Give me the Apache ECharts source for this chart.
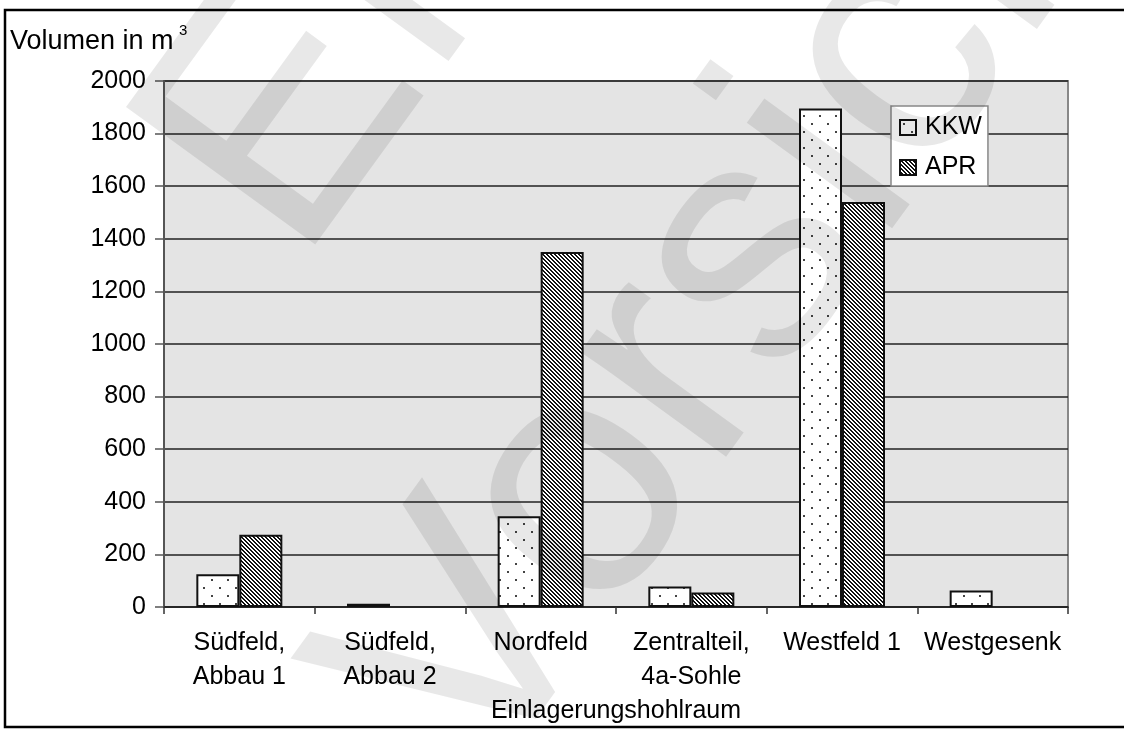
<!DOCTYPE html>
<html>
<head>
<meta charset="utf-8">
<script src="https://cdn.jsdelivr.net/npm/echarts@6/dist/echarts.min.js"></script>
<style>
  html, body { margin: 0; padding: 0; background: #fff; }
  #chart { width: 1124px; height: 731px; }
</style>
</head>
<body>
<div id="chart"></div>
<script>
// Storage cavities (x categories)
const categories = [
  'Südfeld,\nAbbau 1',
  'Südfeld,\nAbbau 2',
  'Nordfeld',
  'Zentralteil,\n4a-Sohle',
  'Westfeld 1',
  'Westgesenk'
];
// Volume in m³ per cavity
const kkwValues = [125, 12, 345, 78, 1895, 63];
const aprValues = [275, null, 1350, 55, 1540, null];
const seriesNames = ['KKW', 'APR'];
const yTicks = { min: 0, max: 2000, step: 200 };
// Draft stamp lettering across the sheet
const stampLines = ['ENTWURF', 'Vorsicht'];

// Fill tiles: dotted (KKW) and diagonal hatch (APR)
function dotTile() {
  const c = document.createElement('canvas');
  c.width = 16; c.height = 16;
  const g = c.getContext('2d');
  g.fillStyle = '#ffffff';
  g.fillRect(0, 0, 16, 16);
  g.fillStyle = '#444444';
  g.fillRect(3, 3, 2, 2);
  g.fillRect(11, 11, 2, 2);
  return c;
}
function hatchTile(period) {
  const c = document.createElement('canvas');
  c.width = period; c.height = period;
  const g = c.getContext('2d');
  g.fillStyle = '#ffffff';
  g.fillRect(0, 0, period, period);
  g.fillStyle = '#111111';
  for (let y = 0; y < period; y++) {
    for (let x = 0; x < period; x++) {
      const d = ((x - y) % period + period) % period;
      if (d < period / 2) g.fillRect(x, y, 1, 1);
    }
  }
  return c;
}
const dotFill = { image: dotTile(), repeat: 'repeat' };
const hatchFill = { image: hatchTile(4), repeat: 'repeat' };

const FONT = '"Liberation Sans", Arial, sans-serif';
const STAMP_ANGLE = 54 * Math.PI / 180;

const chart = echarts.init(document.getElementById('chart'), null, { renderer: 'canvas' });
chart.setOption({
  animation: false,
  backgroundColor: '#ffffff',
  textStyle: { fontFamily: FONT, color: '#000' },
  grid: {
    left: 164, right: 56, top: 81, bottom: 124,
    show: true,
    backgroundColor: '#e4e4e4',
    borderColor: '#888888',
    borderWidth: 2
  },
  legend: {
    orient: 'vertical',
    left: 891, top: 106,
    padding: [9, 6, 6, 8],
    itemWidth: 16, itemHeight: 15,
    itemGap: 15,
    backgroundColor: '#ffffff',
    borderColor: '#888888',
    borderWidth: 1.5,
    borderRadius: 0,
    icon: 'rect',
    textStyle: { fontFamily: FONT, fontSize: 25, color: '#000', padding: [0, 0, 0, 4] },
    data: seriesNames
  },
  xAxis: {
    type: 'category',
    data: categories,
    name: 'Einlagerungshohlraum',
    nameLocation: 'middle',
    nameGap: 83,
    nameTextStyle: { fontFamily: FONT, fontSize: 25, color: '#000' },
    axisLine: { lineStyle: { color: '#222', width: 1.5 } },
    axisTick: { show: true, length: 7, lineStyle: { color: '#333', width: 1.5 } },
    axisLabel: {
      fontFamily: FONT, fontSize: 25, color: '#000',
      lineHeight: 34, margin: 19, interval: 0
    },
    splitLine: { show: false }
  },
  yAxis: {
    type: 'value',
    min: yTicks.min, max: yTicks.max, interval: yTicks.step,
    axisLine: { show: true, lineStyle: { color: '#555', width: 2 } },
    axisTick: { show: true, length: 9, lineStyle: { color: '#555', width: 1.5 } },
    axisLabel: {
      fontFamily: FONT, fontSize: 25, color: '#000', margin: 18,
      formatter: (v) => String(v)
    },
    splitLine: { show: true, lineStyle: { color: '#222', width: 1.5 } }
  },
  series: [
    {
      name: seriesNames[0],
      type: 'bar',
      data: kkwValues,
      barWidth: 43,
      barGap: '0%',
      itemStyle: { color: dotFill, borderColor: '#111', borderWidth: 2 },
      emphasis: { disabled: true }
    },
    {
      name: seriesNames[1],
      type: 'bar',
      data: aprValues,
      barWidth: 43,
      barGap: '0%',
      itemStyle: { color: hatchFill, borderColor: '#111', borderWidth: 2 },
      emphasis: { disabled: true }
    }
  ],
  graphic: [
    {
      type: 'rect', silent: true, z: -10,
      shape: { x: 5, y: 10, width: 1140, height: 717 },
      style: { fill: null, stroke: '#000', lineWidth: 2.5 }
    },
    {
      type: 'text', left: 10, top: 28, silent: true,
      style: { text: 'Volumen in m', font: '27px ' + FONT, fill: '#000' }
    },
    {
      type: 'text', left: 179, top: 23, silent: true,
      style: { text: '3', font: '15px ' + FONT, fill: '#000' }
    },
    {
      type: 'text', silent: true, z: 100,
      x: 223, y: 212, rotation: STAMP_ANGLE,
      style: {
        text: stampLines[0], font: '340px ' + FONT,
        fill: 'rgba(0,0,0,0.09)', align: 'left', verticalAlign: 'middle'
      }
    },
    {
      type: 'text', silent: true, z: 100,
      x: 403, y: 742, rotation: STAMP_ANGLE,
      style: {
        text: stampLines[1], font: '340px ' + FONT,
        fill: 'rgba(0,0,0,0.09)', align: 'left', verticalAlign: 'middle'
      }
    }
  ]
});
</script>
</body>
</html>
